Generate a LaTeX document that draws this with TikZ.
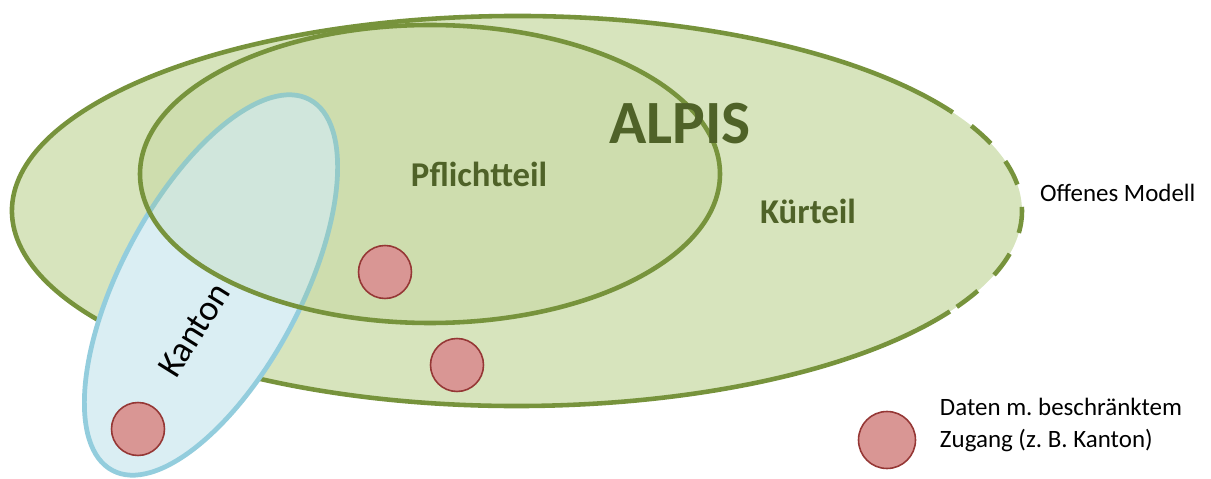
\documentclass[tikz,border=0pt]{standalone}
\usepackage{fontspec}
\setmainfont{Carlito}
\usetikzlibrary{positioning}
\frenchspacing

\definecolor{alpisline}{HTML}{77933C}
\definecolor{alpisfill}{HTML}{D7E4BD}
\definecolor{pflichtfill}{HTML}{9BBB59}
\definecolor{alpistext}{HTML}{4F6228}
\definecolor{kantonline}{HTML}{93CDDD}
\definecolor{kantonfill}{HTML}{DAEEF3}
\definecolor{datafill}{HTML}{D99694}
\definecolor{dataline}{HTML}{953735}

\begin{document}
\begin{tikzpicture}[%
	x=0.02cm,
	y=-0.02cm,
	node distance=0.35cm,
	every text node part/.style={align=left},
	outer/.style={%
		line width=2.6pt,
		draw=alpisline
	},
	inner/.style={%
		line width=2.6pt,
		draw=alpisline,
		fill=pflichtfill,
		fill opacity=0.15,
		draw opacity=1
	},
	kanton/.style={%
		line width=2.7pt,
		draw=kantonline,
		fill=kantonfill
	},
	datum/.style={%
		circle,
		draw=dataline,
		fill=datafill,
		line width=0.9pt,
		inner sep=0pt,
		minimum size=1.06cm
	},
	bigtitle/.style={%
		font=\bfseries\fontsize{35}{40}\selectfont,
		text=alpistext
	},
	parttitle/.style={%
		font=\bfseries\fontsize{19.8}{24}\selectfont,
		text=alpistext
	},
	plain/.style={%
		font=\fontsize{14.2}{18}\selectfont
	}
	]

	\useasboundingbox (0,0) rectangle (1211,479);

	% ALPIS, offen nach rechts
	\fill[alpisfill] (517,211) ellipse [x radius=505, y radius=195];
	\draw[outer] (517,211) ++(31:505 and 195)
		arc [start angle=31, end angle=329, x radius=505, y radius=195];
	\draw[outer, dash pattern=on 15pt off 13pt, dash phase=13pt] (517,211) ++(-31:505 and 195)
		arc [start angle=-31, end angle=31, x radius=505, y radius=195];

	% Kanton
	\draw[kanton, rotate around={62:(211,285)}] (211,285) ellipse [x radius=210, y radius=90];

	% Pflichtteil
	\draw[inner] (430,174) ellipse [x radius=290, y radius=149];

	\node[datum] (dat1) at (385,272) {};
	\node[datum] (dat2) at (457,365) {};
	\node[datum] (dat3) at (138,429) {};

	\node[bigtitle] (alpis) at (680,124) {ALPIS};
	\node[parttitle] (pflicht) at (479,174) {Pflichtteil};
	\node[parttitle] (kuer) at (808,211) {Kürteil};
	\node[plain, font=\fontsize{20.5}{24}\selectfont, rotate=58] (kantonlabel) at (194,330) {Kanton};
	\node[plain, anchor=west] (offen) at (1034,193) {Offenes Modell};

	% Legende
	\node[datum, minimum size=1.14cm] (legdot) at (887,440) {};
	\node[plain] (legtext) [right=of legdot, yshift=0.3cm] {Daten m. beschränktem\\Zugang (z. B. Kanton)};
\end{tikzpicture}
\end{document}
